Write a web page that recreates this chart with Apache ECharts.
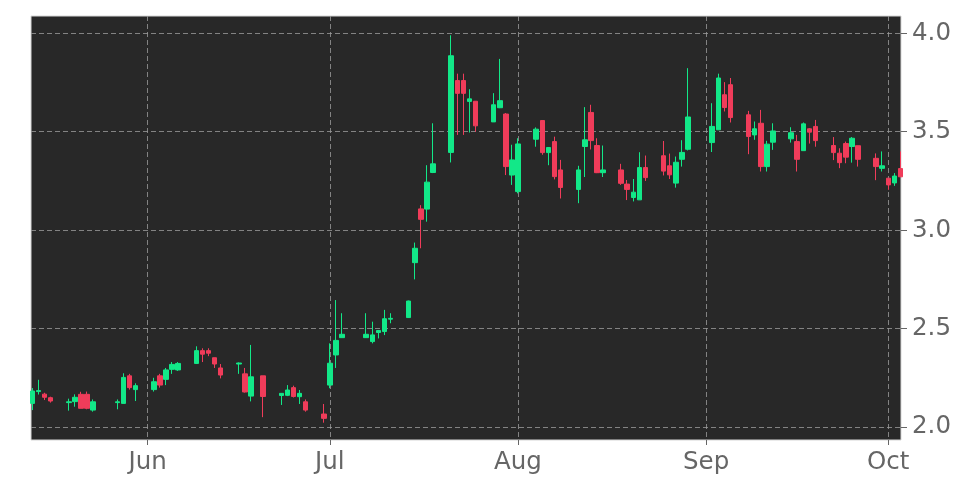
<!DOCTYPE html>
<html>
<head>
<meta charset="utf-8">
<script src="https://cdn.jsdelivr.net/npm/echarts@6/dist/echarts.min.js"></script>
<style>
  html, body { margin: 0; padding: 0; background: #fff; }
  #chart { width: 972px; height: 486px; }
</style>
</head>
<body>
<div id="chart"></div>
<script>
const dates = [
  '2025-05-13', '2025-05-14', '2025-05-15', '2025-05-16', '2025-05-19', '2025-05-20', '2025-05-21', '2025-05-22', '2025-05-23',
  '2025-05-27', '2025-05-28', '2025-05-29', '2025-05-30', '2025-06-02', '2025-06-03', '2025-06-04', '2025-06-05', '2025-06-06',
  '2025-06-09', '2025-06-10', '2025-06-11', '2025-06-12', '2025-06-13', '2025-06-16', '2025-06-17', '2025-06-18', '2025-06-20',
  '2025-06-23', '2025-06-24', '2025-06-25', '2025-06-26', '2025-06-27', '2025-06-30', '2025-07-01', '2025-07-02', '2025-07-03',
  '2025-07-07', '2025-07-08', '2025-07-09', '2025-07-10', '2025-07-11', '2025-07-14', '2025-07-15', '2025-07-16', '2025-07-17',
  '2025-07-18', '2025-07-21', '2025-07-22', '2025-07-23', '2025-07-24', '2025-07-25', '2025-07-28', '2025-07-29', '2025-07-30',
  '2025-07-31', '2025-08-01', '2025-08-04', '2025-08-05', '2025-08-06', '2025-08-07', '2025-08-08', '2025-08-11', '2025-08-12',
  '2025-08-13', '2025-08-14', '2025-08-15', '2025-08-18', '2025-08-19', '2025-08-20', '2025-08-21', '2025-08-22', '2025-08-25',
  '2025-08-26', '2025-08-27', '2025-08-28', '2025-08-29', '2025-09-02', '2025-09-03', '2025-09-04', '2025-09-05', '2025-09-08',
  '2025-09-09', '2025-09-10', '2025-09-11', '2025-09-12', '2025-09-15', '2025-09-16', '2025-09-17', '2025-09-18', '2025-09-19',
  '2025-09-22', '2025-09-23', '2025-09-24', '2025-09-25', '2025-09-26', '2025-09-29', '2025-09-30', '2025-10-01', '2025-10-02',
  '2025-10-03'
];
const opens = [
  2.12, 2.18, 2.167, 2.149, 2.124, 2.129, 2.166, 2.166, 2.086,
  2.124, 2.12, 2.26, 2.19, 2.19, 2.26, 2.242, 2.293, 2.29,
  2.323, 2.388, 2.388, 2.352, 2.30, 2.32, 2.27, 2.157, 2.26,
  2.16, 2.161, 2.2, 2.154, 2.128, 2.066, 2.213, 2.366, 2.454,
  2.454, 2.434, 2.48, 2.485, 2.548, 2.556, 2.835, 3.108, 3.107,
  3.293, 3.395, 3.76, 3.76, 3.654, 3.655, 3.55, 3.622, 3.59,
  3.28, 3.196, 3.462, 3.557, 3.394, 3.45, 3.306, 3.207, 3.425,
  3.598, 3.43, 3.292, 3.306, 3.234, 3.166, 3.154, 3.318, 3.378,
  3.327, 3.239, 3.36, 3.411, 3.445, 3.51, 3.688, 3.739, 3.586,
  3.484, 3.543, 3.323, 3.447, 3.464, 3.45, 3.404, 3.515, 3.527,
  3.43, 3.391, 3.44, 3.425, 3.429, 3.365, 3.314, 3.264, 3.24,
  3.313
];
const highs = [
  2.198, 2.24, 2.174, 2.154, 2.144, 2.166, 2.179, 2.18, 2.14,
  2.14, 2.273, 2.27, 2.222, 2.25, 2.27, 2.3, 2.33, 2.33,
  2.41, 2.4, 2.4, 2.352, 2.32, 2.328, 2.3, 2.417, 2.26,
  2.171, 2.213, 2.21, 2.188, 2.14, 2.117, 2.425, 2.645, 2.578,
  2.578, 2.535, 2.493, 2.595, 2.578, 2.642, 2.937, 3.127, 3.33,
  3.543, 3.99, 3.795, 3.795, 3.716, 3.655, 3.696, 3.87, 3.595,
  3.434, 3.467, 3.522, 3.557, 3.42, 3.475, 3.357, 3.327, 3.625,
  3.637, 3.467, 3.43, 3.337, 3.255, 3.26, 3.396, 3.379, 3.453,
  3.389, 3.374, 3.457, 3.823, 3.645, 3.795, 3.752, 3.773, 3.606,
  3.552, 3.611, 3.454, 3.543, 3.523, 3.484, 3.547, 3.519, 3.56,
  3.473, 3.416, 3.45, 3.473, 3.429, 3.39, 3.4, 3.264, 3.29,
  3.4
];
const lows = [
  2.086, 2.165, 2.137, 2.124, 2.083, 2.103, 2.095, 2.09, 2.078,
  2.09, 2.12, 2.19, 2.132, 2.18, 2.2, 2.213, 2.27, 2.285,
  2.32, 2.33, 2.36, 2.30, 2.247, 2.27, 2.175, 2.13, 2.05,
  2.112, 2.157, 2.15, 2.117, 2.078, 2.022, 2.197, 2.3, 2.454,
  2.459, 2.425, 2.45, 2.467, 2.527, 2.554, 2.75, 2.908, 3.043,
  3.29, 3.344, 3.484, 3.484, 3.496, 3.5, 3.55, 3.62, 3.28,
  3.23, 3.187, 3.424, 3.383, 3.33, 3.258, 3.161, 3.137, 3.27,
  3.41, 3.29, 3.27, 3.23, 3.153, 3.146, 3.154, 3.25, 3.278,
  3.26, 3.216, 3.323, 3.405, 3.397, 3.51, 3.603, 3.547, 3.386,
  3.459, 3.298, 3.298, 3.408, 3.445, 3.298, 3.404, 3.44, 3.424,
  3.356, 3.315, 3.34, 3.343, 3.323, 3.254, 3.298, 3.205, 3.225,
  3.271
];
const closes = [
  2.183, 2.185, 2.151, 2.132, 2.128, 2.151, 2.095, 2.095, 2.128,
  2.128, 2.252, 2.2, 2.21, 2.23, 2.213, 2.29, 2.318, 2.323,
  2.388, 2.37, 2.375, 2.32, 2.264, 2.325, 2.178, 2.255, 2.155,
  2.171, 2.188, 2.155, 2.171, 2.086, 2.044, 2.324, 2.44, 2.471,
  2.471, 2.468, 2.49, 2.55, 2.552, 2.64, 2.908, 3.055, 3.244,
  3.337, 3.886, 3.695, 3.695, 3.667, 3.53, 3.637, 3.658, 3.323,
  3.357, 3.438, 3.513, 3.394, 3.42, 3.272, 3.217, 3.306, 3.459,
  3.455, 3.292, 3.306, 3.238, 3.207, 3.193, 3.318, 3.267, 3.3,
  3.281, 3.345, 3.395, 3.575, 3.527, 3.773, 3.623, 3.572, 3.476,
  3.515, 3.323, 3.437, 3.504, 3.495, 3.36, 3.54, 3.498, 3.455,
  3.394, 3.343, 3.371, 3.467, 3.36, 3.323, 3.327, 3.23, 3.275,
  3.271
];
const monthTicks = ['2025-06-01', '2025-07-01', '2025-08-01', '2025-09-01', '2025-10-01'];
const monthNames = ['Jan', 'Feb', 'Mar', 'Apr', 'May', 'Jun', 'Jul', 'Aug', 'Sep', 'Oct', 'Nov', 'Dec'];
const priceTicks = [2.0, 2.5, 3.0, 3.5, 4.0];

const DAY = 86400000;
const ts = (s) => new Date(s + 'T00:00:00').getTime();

const candles = dates.map((d, i) => [ts(d), opens[i], closes[i], lows[i], highs[i]]);

const upColor = '#12e888';
const downColor = '#f03c5a';
const textColor = '#666666';

const chart = echarts.init(document.getElementById('chart'));
chart.setOption({
  animation: false,
  backgroundColor: '#ffffff',
  grid: {
    left: 31, right: 71, top: 16, bottom: 46,
    show: true, backgroundColor: '#282828', borderColor: '#d6d6d6', borderWidth: 1
  },
  xAxis: {
    type: 'value',
    min: ts('2025-06-01') - 19.23 * DAY,
    max: ts('2025-06-01') + 124.1 * DAY,
    axisLine: { show: false },
    axisTick: {
      show: true, length: 5, inside: false,
      lineStyle: { color: '#666', width: 1 },
      customValues: monthTicks.map(ts)
    },
    axisLabel: {
      color: textColor, fontSize: 24.5, fontFamily: 'DejaVu Sans', margin: 10,
      customValues: monthTicks.map(ts),
      formatter: (v) => monthNames[new Date(v).getMonth()]
    },
    splitLine: { show: true, lineStyle: { type: [5, 3], color: '#9a9a9a', width: 0.8 } }
  },
  yAxis: {
    type: 'value',
    position: 'right',
    min: 1.934,
    max: 4.088,
    axisLine: { show: false },
    axisTick: {
      show: true, length: 6,
      lineStyle: { color: '#666', width: 1 },
      customValues: priceTicks
    },
    axisLabel: {
      color: textColor, fontSize: 24.5, fontFamily: 'DejaVu Sans', margin: 11,
      padding: [5, 0, 0, 0],
      customValues: priceTicks,
      formatter: (v) => v.toFixed(1)
    },
    splitLine: { show: true, lineStyle: { type: [5, 3], color: '#9a9a9a', width: 0.8 } }
  },
  series: [{
    type: 'candlestick',
    data: candles,
    encode: { x: 0, y: [1, 2, 3, 4] },
    barWidth: 5,
    clip: true,
    itemStyle: {
      color: upColor, color0: downColor,
      borderColor: upColor, borderColor0: downColor,
      borderWidth: 1
    }
  }]
});
</script>
</body>
</html>
